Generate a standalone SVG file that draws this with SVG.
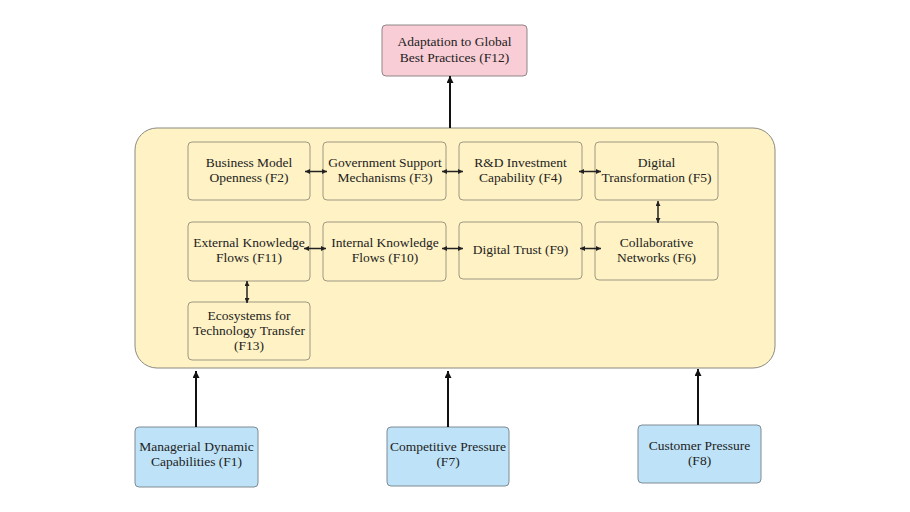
<svg xmlns="http://www.w3.org/2000/svg" width="910" height="512" viewBox="0 0 910 512">
<style>
text{font-family:"Liberation Serif","Times New Roman",serif;font-size:13.5px;fill:#222;text-anchor:middle}
.inner{fill:#FFF2C4;stroke:#9c9884;stroke-width:1}
.blue{fill:#BEE3F8;stroke:#7f8a92;stroke-width:1}
.pink{fill:#F9CDD5;stroke:#8f8588;stroke-width:1}
.container{fill:#FFF2C4;stroke:#8a8a80;stroke-width:1}
.dbl{stroke:#222;stroke-width:1.5;fill:none;marker-start:url(#ah);marker-end:url(#ah)}
.main{stroke:#111;stroke-width:2;fill:none;marker-end:url(#big)}
</style>
<defs>
<marker id="ah" viewBox="0 0 10 10" refX="10" refY="5" markerWidth="5" markerHeight="5" markerUnits="userSpaceOnUse" orient="auto-start-reverse">
<path d="M0,0 L10,5 L0,10 Z" fill="#222"/>
</marker>
<marker id="big" viewBox="0 0 10 10" refX="10" refY="5" markerWidth="8" markerHeight="7" markerUnits="userSpaceOnUse" orient="auto">
<path d="M0,0 L10,5 L0,10 Z" fill="#111"/>
</marker>
</defs>
<rect width="910" height="512" fill="#ffffff"/>

<g id="container">
<rect class="container" x="135" y="128" width="640" height="240" rx="22" ry="22"/>
</g>

<g id="F12">
<rect class="pink" x="382" y="25" width="145" height="51" rx="4"/>
<text x="454.5" y="46">Adaptation to Global</text>
<text x="454.5" y="62">Best Practices (F12)</text>
</g>

<g id="F2">
<rect class="inner" x="188" y="142" width="122" height="58" rx="4"/>
<text x="249" y="167">Business Model</text>
<text x="249" y="182">Openness (F2)</text>
</g>
<g id="F3">
<rect class="inner" x="323" y="142" width="123" height="58" rx="4"/>
<text x="385" y="167">Government Support</text>
<text x="385" y="182">Mechanisms (F3)</text>
</g>
<g id="F4">
<rect class="inner" x="459" y="142" width="123" height="58" rx="4"/>
<text x="520.5" y="167">R&amp;D Investment</text>
<text x="520.5" y="182">Capability (F4)</text>
</g>
<g id="F5">
<rect class="inner" x="595" y="142" width="123" height="58" rx="4"/>
<text x="656.5" y="167">Digital</text>
<text x="656.5" y="182">Transformation (F5)</text>
</g>

<g id="F11">
<rect class="inner" x="188" y="222" width="122" height="59" rx="4"/>
<text x="249" y="247">External Knowledge</text>
<text x="249" y="262">Flows (F11)</text>
</g>
<g id="F10">
<rect class="inner" x="323" y="222" width="123" height="59" rx="4"/>
<text x="385" y="247">Internal Knowledge</text>
<text x="385" y="262">Flows (F10)</text>
</g>
<g id="F9">
<rect class="inner" x="459" y="222" width="123" height="57" rx="4"/>
<text x="520.5" y="254">Digital Trust (F9)</text>
</g>
<g id="F6">
<rect class="inner" x="595" y="222" width="123" height="58" rx="4"/>
<text x="656.5" y="247">Collaborative</text>
<text x="656.5" y="262">Networks (F6)</text>
</g>

<g id="F13">
<rect class="inner" x="188" y="302" width="122" height="58" rx="4"/>
<text x="249" y="320">Ecosystems for</text>
<text x="249" y="335">Technology Transfer</text>
<text x="249" y="350">(F13)</text>
</g>

<g id="F1">
<rect class="blue" x="135" y="427" width="123" height="60" rx="4"/>
<text x="196.5" y="451">Managerial Dynamic</text>
<text x="196.5" y="466">Capabilities (F1)</text>
</g>
<g id="F7">
<rect class="blue" x="387" y="427" width="122" height="59" rx="4"/>
<text x="448" y="450.5">Competitive Pressure</text>
<text x="448" y="466">(F7)</text>
</g>
<g id="F8">
<rect class="blue" x="638" y="425" width="123" height="58" rx="4"/>
<text x="699.5" y="450">Customer Pressure</text>
<text x="699.5" y="465">(F8)</text>
</g>

<g id="connectors">
<line class="dbl" x1="305" y1="171.5" x2="327" y2="171.5"/>
<line class="dbl" x1="442" y1="171.5" x2="463" y2="171.5"/>
<line class="dbl" x1="579" y1="171.5" x2="601" y2="171.5"/>
<line class="dbl" x1="658" y1="201" x2="658" y2="223"/>
<line class="dbl" x1="304" y1="248.5" x2="326" y2="248.5"/>
<line class="dbl" x1="442" y1="248.5" x2="463" y2="248.5"/>
<line class="dbl" x1="580" y1="248.5" x2="601" y2="248.5"/>
<line class="dbl" x1="247" y1="281" x2="247" y2="303"/>
<line class="main" x1="450" y1="128" x2="450" y2="76"/>
<line class="main" x1="196" y1="427" x2="196" y2="371"/>
<line class="main" x1="448" y1="427" x2="448" y2="371"/>
<line class="main" x1="698" y1="425" x2="698" y2="369"/>
</g>
</svg>
